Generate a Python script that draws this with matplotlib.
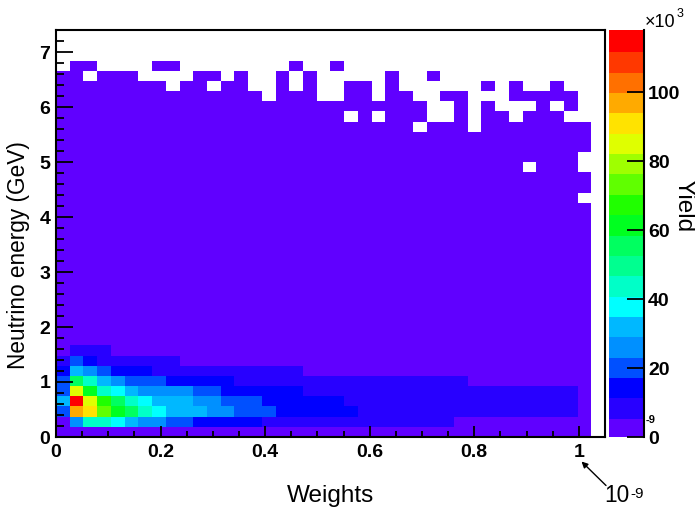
import numpy as np
import matplotlib
matplotlib.use("Agg")
import matplotlib.pyplot as plt
from matplotlib.colors import ListedColormap, BoundaryNorm
from matplotlib.ticker import MultipleLocator

plt.rcParams['font.family'] = ['Liberation Sans', 'DejaVu Sans']

N_BINS = 40
WEIGHT_MAX = 1.05      # x range, units of 1e-9
ENERGY_MAX = 7.4       # GeV
YIELD_MAX = 118.0      # units of 1e3
N_LEVELS = 20

band_colors = ['#6000ff', '#2800ff', '#0000ff', '#0050ff', '#0090ff', '#00b8ff', '#00ffff',
               '#00ffc8', '#00ff90', '#00ff60', '#00ff20', '#20ff00', '#60ff00', '#9fff00',
               '#dfff00', '#ffe300', '#ffaa00', '#ff7000', '#ff3800', '#ff0000']

# yield (thousands) per bin, rows of increasing energy, columns of increasing weight
BG = 3
L1 = 9
L2 = 15
row_00 = [BG] * 39
row_01 = [3, 27, 44, 44, 38, 32, 27, 27, 21, 21] + [L2] * 5 + [L1] * 14 + [BG] * 10
row_02 = [21, 97, 91, 74, 62, 56, 44, 38, 32, 32, 32, 27, 27, 21, 21, 21] + [L2] * 6 + [L1] * 16 + [BG]
row_03 = [32, 115, 86, 68, 56, 44, 38, 32, 32, 32, 27, 27, 21, 21, 21] + [L2] * 6 + [L1] * 17 + [BG]
row_04 = [21, 86, 62, 44, 38, 32, 27, 27, 27, 27, 21, 21] + [L2] * 6 + [L1] * 20 + [BG]
row_05 = [21, 56, 44, 32, 27, 21, 21, 21] + [L2] * 5 + [L1] * 17 + [BG] * 9
row_06 = [L2, 32, 27, 21, L2, L2, L2] + [L1] * 11 + [BG] * 21
row_07 = [L1, 21, L2] + [L1] * 6 + [BG] * 30
row_08 = [BG, L1, L1, L1] + [BG] * 35
low_rows = [row_00, row_01, row_02, row_03, row_04, row_05, row_06, row_07, row_08]

# empty bins in the otherwise uniform band (row: columns)
empty_bins = {23: [38], 26: [34, 38], 27: [38], 30: [26, 30]}
# the ragged top edge: columns with entries (row: columns)
filled_bins = {
    31: [0, 1, 2, 3, 4, 5, 6, 7, 8, 9, 10, 11, 12, 13, 14, 15, 16, 17, 18, 19, 20,
         22, 24, 25, 26, 29, 31, 32, 34, 35, 36],
    32: [0, 1, 2, 3, 4, 5, 6, 7, 8, 9, 10, 11, 12, 13, 14, 15, 16, 17, 18, 19, 20,
         21, 22, 23, 24, 25, 26, 29, 31, 35, 37],
    33: [0, 1, 2, 3, 4, 5, 6, 7, 8, 9, 10, 11, 12, 13, 14, 16, 17, 18,
         21, 22, 24, 25, 28, 29, 33, 34, 35, 36, 37],
    34: [0, 1, 2, 3, 4, 5, 6, 7, 9, 10, 12, 13, 16, 18, 21, 22, 24, 31, 33, 36],
    35: [0, 1, 3, 4, 5, 10, 11, 13, 16, 18, 24, 27],
    36: [1, 2, 7, 8, 17, 20],
}

y_ticks = [0, 1, 2, 3, 4, 5, 6, 7]
x_ticks = [0, 0.2, 0.4, 0.6, 0.8, 1]
x_tick_labels = ['0', '0.2', '0.4', '0.6', '0.8', '1']
z_ticks = [0, 20, 40, 60, 80, 100]

grid = np.full((N_BINS, N_BINS), np.nan)
grid[9:31, :39] = BG
for r, vals in enumerate(low_rows):
    grid[r, :39] = vals
for r, cols in empty_bins.items():
    grid[r, cols] = np.nan
for r, cols in filled_bins.items():
    grid[r, cols] = BG

x_edges = np.linspace(0, WEIGHT_MAX, N_BINS + 1)
y_edges = np.linspace(0, ENERGY_MAX, N_BINS + 1)
levels = np.linspace(0, YIELD_MAX, N_LEVELS + 1)
cmap = ListedColormap(band_colors)
cmap.set_bad('white')
norm = BoundaryNorm(levels, cmap.N)

W, H = 695, 508
fig = plt.figure(figsize=(W / 100, H / 100), dpi=100)
ax = fig.add_axes([56 / W, 1 - 437 / H, 549 / W, 407 / H])
cax = fig.add_axes([609 / W, 1 - 437 / H, 35 / W, 407 / H])

mesh = ax.pcolormesh(x_edges, y_edges, np.ma.masked_invalid(grid), cmap=cmap, norm=norm,
                     edgecolors='none', antialiased=False, rasterized=True)
ax.set_xlim(0, WEIGHT_MAX)
ax.set_ylim(0, ENERGY_MAX)
ax.set_xticks(x_ticks, x_tick_labels)
ax.set_yticks(y_ticks)
ax.xaxis.set_minor_locator(MultipleLocator(0.05))
ax.yaxis.set_minor_locator(MultipleLocator(0.2))
ax.tick_params(axis='x', which='major', direction='in', length=8, width=1.3, pad=5)
ax.tick_params(axis='x', which='minor', direction='in', length=4, width=1.3)
ax.tick_params(axis='y', which='major', direction='in', length=12.5, width=1.3, pad=4)
ax.tick_params(axis='y', which='minor', direction='in', length=6, width=1.3)
for lab in ax.get_xticklabels() + ax.get_yticklabels():
    lab.set_fontweight('bold')
    lab.set_fontsize(14)
for sp in ax.spines.values():
    sp.set_linewidth(1.5)

cb = fig.colorbar(mesh, cax=cax, spacing='proportional', ticks=z_ticks)
cb.outline.set_visible(False)
cax.spines['right'].set_visible(True)
cax.spines['right'].set_linewidth(1.5)
cax.minorticks_off()
cax.tick_params(axis='y', which='major', direction='in', length=12.5, width=1.3, pad=3)
cax.set_yticks(z_ticks)
for lab in cax.get_yticklabels():
    lab.set_fontweight('bold')
    lab.set_fontsize(14)
cb.solids.set_edgecolor('face')

fig.text(646 / W, 1 - 420 / H, '-9', fontsize=8, fontweight='bold', ha='left', va='center')
fig.text(645 / W, 1 - 27 / H, '\u00d710', fontsize=13, ha='left', va='baseline')
fig.text(677 / W, 1 - 17 / H, '3', fontsize=9, ha='left', va='baseline')

fig.text(330.5 / W, 1 - 502 / H, 'Weights', fontsize=17.5, ha='center', va='baseline')
fig.text(19 / W, 1 - 255 / H, 'Neutrino energy (GeV)', fontsize=16.3, rotation=90,
         ha='center', va='center')
fig.text(683 / W, 1 - 206 / H, 'Yield', fontsize=17.5, rotation=270, ha='center', va='center')

fig.text(604.5 / W, 1 - 502 / H, '10', fontsize=16.3, ha='left', va='baseline')
fig.text(630 / W, 1 - 497.5 / H, '-9', fontsize=11, ha='left', va='baseline')
ax.annotate('', xy=(581.5 / W, 1 - 461.5 / H), xytext=(606 / W, 1 - 485.5 / H),
            xycoords='figure fraction', textcoords='figure fraction',
            arrowprops=dict(arrowstyle='-|>', color='black', lw=1.0, mutation_scale=9,
                            shrinkA=0, shrinkB=0), annotation_clip=False)

fig.savefig('out.png', dpi=100)
